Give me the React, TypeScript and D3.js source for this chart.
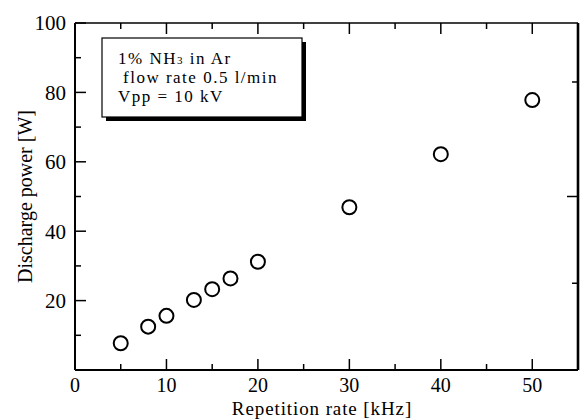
import * as d3 from 'd3';

const W = 587;
const H = 420;
const PLOT = { left: 75, right: 578, top: 23, bottom: 370 };

// Discharge power vs repetition rate
const repRate = [5, 8, 10, 13, 15, 17, 20, 30, 40, 50];
const power = [7.7, 12.5, 15.6, 20.2, 23.3, 26.4, 31.2, 46.9, 62.2, 77.8];

const xMajor = [0, 10, 20, 30, 40, 50];
const xMinor = [5, 15, 25, 35, 45];
const yMajor = [20, 40, 60, 80, 100];
const yMinor = [10, 30, 50, 70, 90];
const yLabels = [20, 40, 60, 80, 100];
// the right frame only shows a few marks in the original
const rightMajor = [50];
const rightMinor = [25, 83];

const FONT = '"Liberation Serif", "Times New Roman", serif';

export default function App() {
  const x = d3.scaleLinear().domain([0, 55]).range([PLOT.left, PLOT.right]);
  const y = d3.scaleLinear().domain([0, 100]).range([PLOT.bottom, PLOT.top]);

  const MAJ = 11;
  const MIN = 6;
  const pts = repRate.map((r, i) => ({ r, p: power[i] }));

  return (
    <svg
      width={W}
      height={H}
      style={{ position: 'absolute', left: 0, top: 0, background: '#fff' }}
      fontFamily={FONT}
    >
      <rect width={W} height={H} fill="#fff" />

      {/* frame */}
      <line x1={PLOT.left} x2={PLOT.right} y1={PLOT.bottom} y2={PLOT.bottom} stroke="#000" strokeWidth={2} />
      <line x1={PLOT.left} x2={PLOT.right} y1={PLOT.top} y2={PLOT.top} stroke="#000" strokeWidth={1.6} />
      <line x1={PLOT.left} x2={PLOT.left} y1={PLOT.top} y2={PLOT.bottom} stroke="#000" strokeWidth={2} />
      <line x1={PLOT.right} x2={PLOT.right} y1={PLOT.top} y2={PLOT.bottom} stroke="#000" strokeWidth={2.6} />

      {/* x ticks, bottom and top, pointing inward */}
      {xMajor.map(v => (
        <g key={'xM' + v}>
          <line x1={x(v)} x2={x(v)} y1={PLOT.bottom} y2={PLOT.bottom - MAJ} stroke="#000" strokeWidth={1.5} />
          <line x1={x(v)} x2={x(v)} y1={PLOT.top} y2={PLOT.top + MAJ} stroke="#000" strokeWidth={1.5} />
          <text x={x(v)} y={392} fontSize={20} textAnchor="middle">{v}</text>
        </g>
      ))}
      {xMinor.map(v => (
        <g key={'xm' + v}>
          <line x1={x(v)} x2={x(v)} y1={PLOT.bottom} y2={PLOT.bottom - MIN} stroke="#000" strokeWidth={1.5} />
          <line x1={x(v)} x2={x(v)} y1={PLOT.top} y2={PLOT.top + MIN} stroke="#000" strokeWidth={1.5} />
        </g>
      ))}

      {/* y ticks on the left */}
      {yMajor.map(v => (
        <line key={'yM' + v} x1={PLOT.left} x2={PLOT.left + MAJ} y1={y(v)} y2={y(v)} stroke="#000" strokeWidth={1.5} />
      ))}
      {yMinor.map(v => (
        <line key={'ym' + v} x1={PLOT.left} x2={PLOT.left + MIN} y1={y(v)} y2={y(v)} stroke="#000" strokeWidth={1.5} />
      ))}
      {yLabels.map(v => (
        <text key={'yl' + v} x={PLOT.left - 9} y={y(v)} dy="0.35em" fontSize={21} textAnchor="end">{v}</text>
      ))}

      {/* right frame ticks */}
      {rightMajor.map(v => (
        <line key={'rM' + v} x1={PLOT.right} x2={PLOT.right - MAJ} y1={y(v)} y2={y(v)} stroke="#000" strokeWidth={1.5} />
      ))}
      {rightMinor.map(v => (
        <line key={'rm' + v} x1={PLOT.right} x2={PLOT.right - MIN} y1={y(v)} y2={y(v)} stroke="#000" strokeWidth={1.5} />
      ))}

      {/* axis titles */}
      <text x={322} y={415} fontSize={19} textAnchor="middle" letterSpacing={0.9}>Repetition rate [kHz]</text>
      <text
        transform={`translate(32,${(PLOT.top + PLOT.bottom) / 2}) rotate(-90)`}
        fontSize={20}
        textAnchor="middle"
      >
        Discharge power [W]
      </text>

      {/* legend box with drop shadow */}
      <rect x={106} y={42} width={200} height={79} fill="#000" />
      <rect x={102} y={38} width={200} height={79} fill="#fff" stroke="#000" strokeWidth={1.2} />
      <g fontSize={17} letterSpacing={1.5}>
        <text x={118} y={63.5}>
          1% NH<tspan fontSize={11}>3</tspan> in Ar
        </text>
        <text x={123} y={83}>flow rate 0.5 l/min</text>
        <text x={118} y={101.5}>Vpp = 10 kV</text>
      </g>

      {/* data */}
      {pts.map(d => (
        <circle key={d.r} cx={x(d.r)} cy={y(d.p)} r={7} fill="none" stroke="#000" strokeWidth={2} />
      ))}
    </svg>
  );
}
